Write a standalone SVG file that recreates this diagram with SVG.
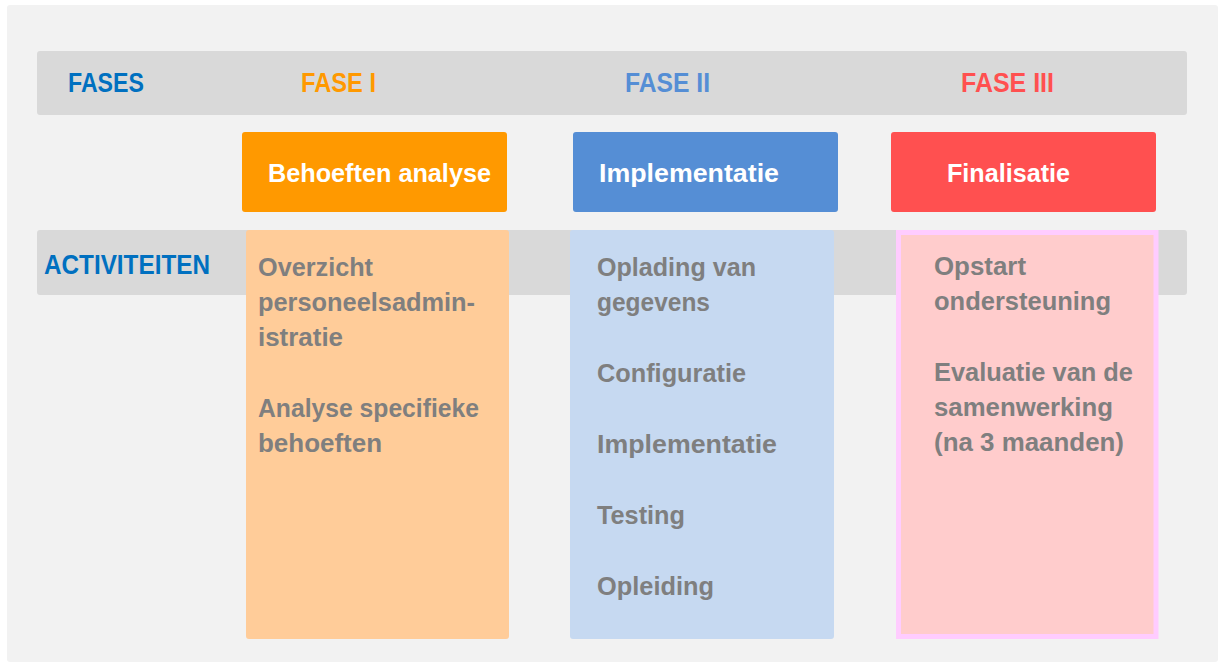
<svg xmlns="http://www.w3.org/2000/svg" width="1218" height="666" viewBox="0 0 1218 666">
<style>
text{font-family:"Liberation Sans",Arial,sans-serif;font-weight:bold}
.hdr{font-size:27px}
.ttl{font-size:25px;fill:#fff}
.act{font-size:25px;fill:#7f7f7f}
.band{fill:#d9d9d9}
</style>
<rect x="0" y="0" width="1218" height="666" fill="#fff"/>
<rect x="7" y="5" width="1211" height="657" fill="#f2f2f2" rx="3"/>
<g id="fases-band">
<rect class="band" x="37" y="51" width="1150" height="64" rx="3"/>
<text class="hdr" x="68" y="92" fill="#0070c0" textLength="76" lengthAdjust="spacingAndGlyphs">FASES</text>
<text class="hdr" x="301" y="92" fill="#ff9900" textLength="75" lengthAdjust="spacingAndGlyphs">FASE I</text>
<text class="hdr" x="625" y="92" fill="#558ed5" textLength="85" lengthAdjust="spacingAndGlyphs">FASE II</text>
<text class="hdr" x="961" y="92" fill="#ff5050" textLength="93" lengthAdjust="spacingAndGlyphs">FASE III</text>
</g>
<g id="activiteiten-band">
<rect class="band" x="37" y="230" width="1150" height="65" rx="3"/>
<text class="hdr" x="44" y="274" fill="#0070c0" textLength="166" lengthAdjust="spacingAndGlyphs">ACTIVITEITEN</text>
</g>
<g id="fase1">
<rect x="242" y="132" width="265" height="80" rx="3" fill="#ff9900"/>
<text class="ttl" x="268" y="182" textLength="223" lengthAdjust="spacingAndGlyphs">Behoeften analyse</text>
<rect x="246" y="230" width="263" height="409" rx="3" fill="#ffcc99"/>
<text class="act" x="258" y="276" textLength="115" lengthAdjust="spacingAndGlyphs">Overzicht</text>
<text class="act" x="258" y="311" textLength="217" lengthAdjust="spacingAndGlyphs">personeelsadmin-</text>
<text class="act" x="258" y="346" textLength="85" lengthAdjust="spacingAndGlyphs">istratie</text>
<text class="act" x="258" y="417" textLength="221" lengthAdjust="spacingAndGlyphs">Analyse specifieke</text>
<text class="act" x="258" y="452" textLength="124" lengthAdjust="spacingAndGlyphs">behoeften</text>
</g>
<g id="fase2">
<rect x="573" y="132" width="265" height="80" rx="3" fill="#558ed5"/>
<text class="ttl" x="599" y="182" textLength="180" lengthAdjust="spacingAndGlyphs">Implementatie</text>
<rect x="570" y="230" width="264" height="409" rx="3" fill="#c6d9f1"/>
<text class="act" x="597" y="276" textLength="159" lengthAdjust="spacingAndGlyphs">Oplading van</text>
<text class="act" x="597" y="311" textLength="113" lengthAdjust="spacingAndGlyphs">gegevens</text>
<text class="act" x="597" y="382" textLength="149" lengthAdjust="spacingAndGlyphs">Configuratie</text>
<text class="act" x="597" y="453" textLength="180" lengthAdjust="spacingAndGlyphs">Implementatie</text>
<text class="act" x="597" y="524" textLength="88" lengthAdjust="spacingAndGlyphs">Testing</text>
<text class="act" x="597" y="595" textLength="117" lengthAdjust="spacingAndGlyphs">Opleiding</text>
</g>
<g id="fase3">
<rect x="891" y="132" width="265" height="80" rx="3" fill="#ff5050"/>
<text class="ttl" x="947" y="182" textLength="123" lengthAdjust="spacingAndGlyphs">Finalisatie</text>
<rect x="898.5" y="232.5" width="257.5" height="404" fill="#ffcccc" stroke="#ffccff" stroke-width="5"/>
<text class="act" x="934" y="275" textLength="92" lengthAdjust="spacingAndGlyphs">Opstart</text>
<text class="act" x="934" y="310" textLength="177" lengthAdjust="spacingAndGlyphs">ondersteuning</text>
<text class="act" x="934" y="381" textLength="199" lengthAdjust="spacingAndGlyphs">Evaluatie van de</text>
<text class="act" x="934" y="416" textLength="179" lengthAdjust="spacingAndGlyphs">samenwerking</text>
<text class="act" x="934" y="451" textLength="190" lengthAdjust="spacingAndGlyphs">(na 3 maanden)</text>
</g>
<g id="connectors"/>
</svg>
